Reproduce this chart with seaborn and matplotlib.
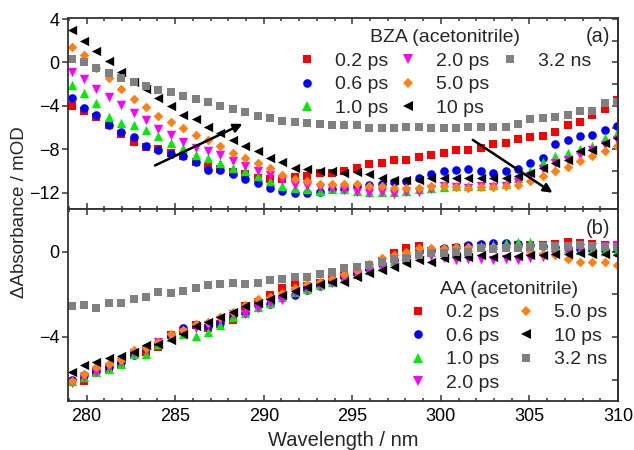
import matplotlib
matplotlib.use("Agg")
import matplotlib.pyplot as plt
import numpy as np
import pandas as pd
import seaborn as sns
from matplotlib.lines import Line2D
from matplotlib.ticker import MultipleLocator, NullFormatter

# ---------------- data ----------------
wavelength = [279.15, 279.85, 280.55, 281.25, 281.95, 282.65, 283.35, 284.05, 284.75, 285.45,
              286.15, 286.85, 287.55, 288.25, 288.95, 289.65, 290.35, 291.05, 291.75, 292.45,
              293.15, 293.85, 294.55, 295.25, 295.95, 296.65, 297.35, 298.05, 298.75, 299.45,
              300.15, 300.85, 301.55, 302.25, 302.95, 303.65, 304.35, 305.05, 305.75, 306.45,
              307.15, 307.85, 308.55, 309.25, 309.95]

delays = ["0.2 ps", "0.6 ps", "1.0 ps", "2.0 ps", "5.0 ps", "10 ps", "3.2 ns"]

# BZA (acetonitrile), panel (a)
bza_02ps = [-4.0, -4.5, -5.05, -5.75, -6.6, -7.3, -7.75, -7.95, -8.35, -8.65,
            -9.2, -9.5, -9.8, -10.1, -10.3, -10.6, -10.7, -10.75, -10.55, -10.45,
            -10.2, -10.2, -10.0, -9.7, -9.35, -9.3, -9.0, -9.0, -8.7, -8.5,
            -8.35, -8.1, -8.1, -7.85, -7.55, -7.45, -7.05, -6.9, -6.75, -6.4,
            -5.75, -5.45, -4.85, -4.25, -3.45]
bza_06ps = [-3.3, -4.2, -4.85, -5.8, -6.4, -6.9, -7.65, -8.1, -8.4, -8.65,
            -9.2, -9.9, -9.95, -10.25, -10.7, -11.1, -11.55, -11.8, -12.0, -12.0,
            -11.9, -11.65, -11.65, -11.4, -11.25, -11.2, -11.0, -10.9, -10.6, -10.3,
            -10.0, -9.9, -9.85, -10.0, -10.2, -10.0, -9.8, -9.3, -8.8, -7.5,
            -7.1, -6.8, -6.65, -6.2, -5.85]
bza_10ps = [-2.1, -2.85, -3.75, -5.0, -5.6, -5.75, -6.2, -6.8, -7.4, -7.9,
            -8.5, -8.8, -9.3, -9.7, -10.0, -10.5, -10.95, -11.4, -11.55, -11.65,
            -11.8, -11.7, -11.7, -11.8, -11.9, -11.9, -11.9, -11.8, -11.7, -11.6,
            -11.5, -11.4, -11.4, -11.4, -11.3, -11.2, -10.6, -10.0, -9.2, -8.6,
            -8.3, -7.95, -7.7, -7.0, -6.5]
bza_20ps = [-0.86, -1.56, -2.4, -3.15, -3.9, -4.7, -5.3, -6.15, -6.7, -7.3,
            -7.9, -8.2, -8.5, -9.1, -9.5, -10.0, -10.35, -10.8, -11.25, -11.4,
            -11.6, -11.7, -11.75, -11.9, -12.0, -11.95, -12.15, -11.95, -11.9, -11.7,
            -11.4, -11.5, -11.55, -11.4, -11.5, -11.4, -11.0, -10.5, -9.8, -9.3,
            -9.0, -8.5, -8.1, -7.6, -7.1]
bza_50ps = [1.4, 0.67, -0.55, -1.47, -2.4, -3.4, -4.1, -4.9, -5.45, -6.05,
            -6.7, -7.1, -7.7, -8.3, -8.8, -9.3, -9.7, -10.35, -10.7, -10.9,
            -11.2, -11.2, -11.2, -11.2, -11.4, -11.4, -11.55, -11.55, -11.55, -11.4,
            -11.35, -11.5, -11.55, -11.45, -11.5, -11.4, -11.25, -10.95, -10.5, -10.0,
            -9.6, -9.1, -8.65, -8.2, -7.7]
bza_10ps_b = [3.0, 2.0, 1.1, 0.15, -0.86, -1.8, -2.4, -3.3, -4.0, -4.8,
              -5.2, -5.9, -6.5, -7.1, -7.65, -8.2, -8.8, -9.2, -9.7, -9.8,
              -10.0, -10.0, -10.2, -10.1, -10.3, -10.6, -10.8, -10.8, -10.8, -10.6,
              -10.6, -10.6, -10.6, -10.65, -10.65, -10.6, -10.5, -10.2, -9.7, -9.25,
              -8.95, -8.2, -8.05, -7.45, -7.0]
bza_32ns = [0.3, 0.05, -0.55, -0.95, -1.4, -1.8, -2.15, -2.5, -2.75, -3.1,
            -3.35, -3.65, -4.0, -4.3, -4.6, -4.9, -5.15, -5.4, -5.5, -5.6,
            -5.7, -5.75, -5.8, -5.8, -6.05, -6.05, -6.0, -5.9, -5.9, -6.0,
            -6.05, -6.0, -5.95, -5.9, -5.95, -5.9, -5.65, -5.25, -5.15, -5.05,
            -4.8, -4.5, -4.5, -3.75, -3.65]

# AA (acetonitrile), panel (b)
aa_02ps = [-6.12, -6.04, -5.65, -5.49, -5.33, -4.81, -4.7, -4.47, -3.92, -3.72,
           -3.45, -3.6, -3.37, -3.21, -2.56, -2.35, -2.04, -1.69, -1.49, -1.6,
           -1.45, -1.3, -1.1, -0.95, -0.7, -0.45, -0.08, 0.16, 0.28, 0.05,
           0.1, 0.15, 0.2, 0.25, 0.2, 0.25, 0.3, 0.3, 0.3, 0.35,
           0.47, 0.4, 0.35, 0.3, 0.3]
aa_06ps = [-6.0, -5.8, -5.6, -5.41, -5.18, -4.86, -4.5, -4.28, -3.97, -3.6,
           -3.45, -3.5, -3.34, -2.9, -2.87, -2.51, -2.46, -2.12, -2.04, -1.8,
           -1.6, -1.4, -1.2, -1.0, -0.8, -0.6, -0.4, -0.2, 0.05, 0.1,
           0.15, 0.2, 0.3, 0.38, 0.4, 0.4, 0.38, 0.3, 0.25, 0.2,
           0.15, 0.12, 0.1, 0.1, 0.1]
aa_10ps = [-6.04, -5.88, -5.65, -5.49, -5.25, -4.81, -4.78, -4.31, -4.0, -3.84,
           -3.97, -3.76, -3.45, -3.06, -2.87, -2.59, -2.4, -2.12, -1.88, -1.75,
           -1.55, -1.4, -1.25, -1.05, -0.85, -0.65, -0.45, -0.3, -0.1, 0.0,
           0.1, 0.15, 0.2, 0.25, 0.3, 0.4, 0.45, 0.47, 0.3, 0.2,
           0.15, 0.1, 0.1, 0.05, 0.05]
aa_20ps = [-6.16, -5.88, -5.65, -5.41, -5.18, -4.75, -4.63, -4.24, -4.0, -3.76,
           -3.58, -3.45, -3.21, -2.9, -2.9, -2.66, -2.43, -2.27, -1.96, -1.75,
           -1.6, -1.45, -1.3, -1.1, -0.9, -0.7, -0.5, -0.35, -0.25, -0.2,
           -0.3, -0.4, -0.35, -0.35, -0.4, -0.35, -0.4, -0.3, -0.25, -0.15,
           0.05, 0.15, 0.2, 0.25, 0.3]
aa_50ps = [-6.04, -5.72, -5.41, -5.28, -5.06, -4.63, -4.5, -4.24, -3.84, -3.69,
           -3.4, -3.29, -3.06, -2.82, -2.51, -2.24, -2.12, -1.93, -1.72, -1.52,
           -1.4, -1.25, -1.05, -0.85, -0.6, -0.31, -0.16, 0.0, 0.16, 0.16,
           0.19, 0.2, 0.24, 0.24, 0.22, 0.2, 0.2, 0.05, -0.1, -0.16,
           -0.36, -0.47, -0.47, -0.5, -0.63]
aa_10ps_b = [-5.65, -5.33, -5.18, -4.97, -4.89, -4.7, -4.39, -4.31, -4.12, -3.84,
             -3.5, -3.29, -3.06, -2.82, -2.56, -2.4, -2.24, -2.04, -1.85, -1.68,
             -1.53, -1.44, -1.41, -1.18, -1.02, -0.86, -0.7, -0.55, -0.39, -0.47,
             -0.31, -0.24, -0.24, -0.16, -0.24, -0.2, -0.2, -0.15, -0.15, -0.12,
             -0.1, -0.08, -0.1, -0.12, -0.16]
aa_32ns = [-2.56, -2.51, -2.62, -2.4, -2.4, -2.23, -2.12, -1.88, -1.96, -1.83,
           -1.72, -1.57, -1.53, -1.49, -1.51, -1.47, -1.35, -1.28, -1.2, -1.17,
           -1.07, -0.94, -0.78, -0.7, -0.63, -0.47, -0.34, -0.31, -0.16, -0.08,
           -0.08, -0.03, 0.0, 0.16, 0.13, 0.16, 0.16, 0.24, 0.28, 0.28,
           0.28, 0.31, 0.28, 0.24, 0.24]

bza_series = [bza_02ps, bza_06ps, bza_10ps, bza_20ps, bza_50ps, bza_10ps_b, bza_32ns]
aa_series = [aa_02ps, aa_06ps, aa_10ps, aa_20ps, aa_50ps, aa_10ps_b, aa_32ns]

# ---------------- styling ----------------
colors = ["#ff0000", "#0000ff", "#00ee00", "#ff00ff", "#ff8010", "#000000", "#808080"]
markers = ["s", "o", "^", "v", "D", "<", "s"]
msizes = [5.8, 6.2, 6.7, 6.7, 4.9, 6.7, 5.8]

sns.set_theme(style="ticks")
plt.rcParams["font.family"] = ["Liberation Sans", "DejaVu Sans"]
plt.rcParams["axes.edgecolor"] = "#333333"
plt.rcParams["axes.linewidth"] = 1.3

fig = plt.figure(figsize=(6.34, 4.5), dpi=100)
ax1 = fig.add_axes([0.1073, 0.5356, 0.8675, 0.4244])
ax2 = fig.add_axes([0.1073, 0.1089, 0.8675, 0.4267])


def long_frame(series):
    frames = []
    for name, vals in zip(delays, series):
        frames.append(pd.DataFrame({"wl": wavelength, "dA": vals, "delay": name}))
    return pd.concat(frames, ignore_index=True)


def draw(ax, series):
    df = long_frame(series)
    for name, c, m, ms in zip(delays, colors, markers, msizes):
        sns.scatterplot(data=df[df["delay"] == name], x="wl", y="dA", ax=ax,
                        marker=m, color=c, s=ms ** 2, linewidth=0, legend=False)


draw(ax1, bza_series)
draw(ax2, aa_series)

ax1.set_ylim(-13.5, 4.1)
ax2.set_ylim(-7, 2)
for ax in (ax1, ax2):
    ax.set_xlim(278.95, 310)
    ax.set_xlabel("")
    ax.set_ylabel("")
    ax.xaxis.set_major_locator(MultipleLocator(5))
    ax.xaxis.set_minor_locator(MultipleLocator(1))
    ax.yaxis.set_major_locator(MultipleLocator(4))
    ax.tick_params(axis="x", which="both", direction="in", top=True, bottom=True,
                   colors="#333333", labelcolor="black", labelsize=13, width=1.1,
                   pad=5)
    ax.tick_params(axis="x", which="major", length=4.5)
    ax.tick_params(axis="x", which="minor", length=2.5)
    ax.tick_params(axis="y", which="major", direction="out", length=4, width=1.1,
                   colors="#333333", labelcolor="black", labelsize=13, pad=2)
    sec = ax.secondary_yaxis("right")
    sec.yaxis.set_major_locator(MultipleLocator(2))
    sec.yaxis.set_major_formatter(NullFormatter())
    sec.tick_params(axis="y", direction="in", length=4, width=1.1, colors="#333333")
    sec.spines["right"].set_color("#333333")
    sec.spines["right"].set_linewidth(1.3)
    for s in ax.spines.values():
        s.set_visible(True)

ax1.tick_params(axis="x", labelbottom=False)

# legends
handles = [Line2D([], [], linestyle="none", marker=m, color=c, markersize=ms,
                  markeredgewidth=0) for c, m, ms in zip(colors, markers, msizes)]
blank = Line2D([], [], linestyle="none", marker=None)
leg1 = ax1.legend(handles + [blank, blank], delays + ["", ""], ncol=3,
                  title="BZA (acetonitrile)", loc="upper left",
                  bbox_to_anchor=(0.42, 0.94), frameon=False, fontsize=14,
                  title_fontsize=14, handlelength=0.8, handletextpad=1.04,
                  columnspacing=0.65, labelspacing=0.3, borderpad=0,
                  borderaxespad=0)
leg2 = ax2.legend(handles, delays, ncol=2, title="AA (acetonitrile)",
                  loc="upper left", bbox_to_anchor=(0.622, 0.625), frameon=False,
                  fontsize=14, title_fontsize=14, handlelength=0.8,
                  handletextpad=1.04, columnspacing=1.0, labelspacing=0.3,
                  borderpad=0, borderaxespad=0)

ax1.text(0.985, 0.905, "(a)", transform=ax1.transAxes, ha="right", va="center",
         fontsize=14.5)
ax2.text(0.985, 0.90, "(b)", transform=ax2.transAxes, ha="right", va="center",
         fontsize=14.5)

arrow = dict(arrowstyle="-|>", color="black", lw=1.8, mutation_scale=13,
             shrinkA=0, shrinkB=0)
ax1.annotate("", xy=(288.8, -5.66), xytext=(283.86, -9.49), arrowprops=arrow)
ax1.annotate("", xy=(306.3, -12.0), xytext=(301.8, -7.13), arrowprops=arrow)

fig.text(343 / 634, 1 - 440 / 450, "Wavelength / nm", ha="center", va="center",
         fontsize=14.5)
fig.text(20 / 634, 1 - 212 / 450, "\u0394Absorbance / mOD", ha="center",
         va="center", rotation=90, fontsize=13.5)

fig.savefig("out.png", dpi=100)
